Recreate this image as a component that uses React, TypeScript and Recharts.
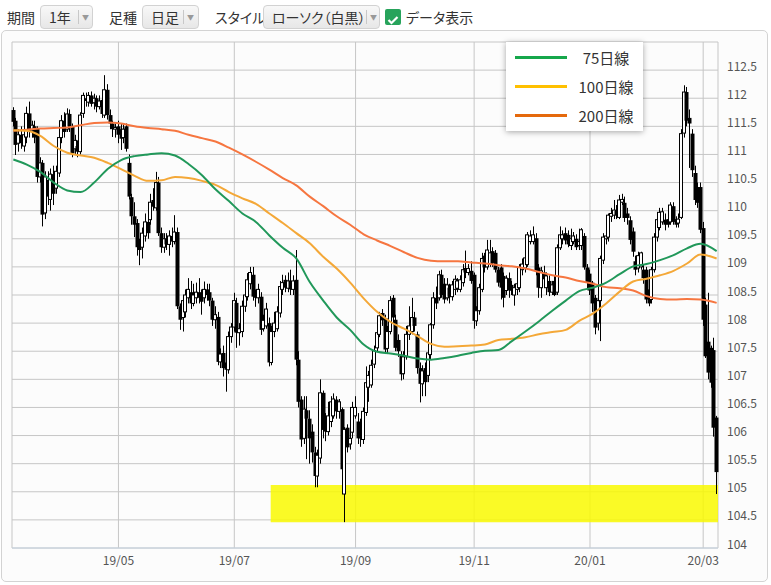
import { Bar, CartesianGrid, ComposedChart, Line, ReferenceArea, XAxis, YAxis } from "recharts";

// daily candles [open, high, low, close], 2019/03 - 2020/03
const ohlc: [number, number, number, number][] = [
  [111.79, 111.84, 111.5, 111.58], [111.6, 111.65, 110.99, 111.17], [111.2, 111.45, 111.05, 111.35], [111.35, 111.5, 111.1, 111.2],
  [111.15, 111.45, 111.05, 111.35], [111.31, 111.85, 111.2, 111.73], [111.73, 111.94, 111.3, 111.4], [111.42, 111.6, 111.3, 111.52],
  [111.5, 111.6, 111.2, 111.3], [111.47, 111.5, 110.5, 110.6], [110.6, 110.95, 110.5, 110.85], [110.85, 110.9, 109.72, 109.93],
  [109.96, 110.7, 109.85, 110.6], [110.55, 110.7, 110.1, 110.25], [110.2, 110.75, 110.0, 110.65], [110.65, 110.8, 110.1, 110.3],
  [110.4, 110.8, 110.3, 110.7], [110.67, 111.4, 110.6, 111.3], [111.3, 111.7, 111.2, 111.6], [111.6, 111.75, 111.3, 111.4],
  [111.45, 111.82, 111.4, 111.72], [111.72, 111.8, 111.4, 111.5], [111.49, 111.55, 110.95, 111.02], [111.1, 111.35, 111.0, 111.25],
  [111.15, 111.25, 110.95, 111.05], [111.05, 111.75, 111.0, 111.7], [111.73, 112.1, 111.65, 112.05], [112.0, 112.1, 111.85, 111.95],
  [111.93, 112.11, 111.85, 112.05], [112.05, 112.12, 111.85, 111.9], [111.92, 112.08, 111.8, 112.0], [112.0, 112.05, 111.75, 111.85],
  [111.85, 112.05, 111.8, 111.95], [111.97, 112.02, 111.65, 111.72], [111.7, 112.41, 111.65, 112.15], [112.15, 112.25, 111.62, 111.7],
  [111.7, 111.8, 111.45, 111.55], [111.55, 111.6, 111.31, 111.45], [111.45, 111.55, 111.3, 111.48], [111.5, 111.6, 111.2, 111.35],
  [111.45, 111.55, 111.08, 111.28], [111.3, 111.55, 111.2, 111.45], [111.5, 111.55, 111.05, 111.1], [110.85, 111.0, 110.2, 110.25],
  [110.24, 110.3, 109.75, 109.9], [109.9, 110.15, 109.53, 109.75], [109.78, 109.85, 109.2, 109.35], [109.4, 109.5, 109.03, 109.3],
  [109.35, 109.7, 109.15, 109.6], [109.55, 109.95, 109.45, 109.8], [109.8, 110.0, 109.5, 109.6], [109.84, 110.3, 109.75, 110.15],
  [110.19, 110.4, 110.0, 110.07], [110.05, 110.69, 110.0, 110.5], [110.5, 110.6, 109.55, 109.6], [109.6, 109.7, 109.25, 109.35],
  [109.35, 109.6, 109.25, 109.5], [109.5, 109.6, 109.3, 109.4], [109.4, 109.65, 109.2, 109.55], [109.55, 109.7, 109.35, 109.45],
  [109.45, 109.92, 109.4, 109.62], [109.62, 109.7, 108.25, 108.3], [108.3, 108.35, 107.88, 108.06], [108.1, 108.5, 107.85, 108.4],
  [108.2, 108.6, 108.1, 108.5], [108.45, 108.8, 108.35, 108.6], [108.55, 108.75, 108.25, 108.35], [108.35, 108.7, 108.3, 108.5],
  [108.45, 108.72, 108.35, 108.55], [108.55, 108.8, 108.35, 108.45], [108.5, 108.6, 108.15, 108.38], [108.45, 108.74, 108.35, 108.6],
  [108.6, 108.7, 108.4, 108.5], [108.55, 108.7, 108.3, 108.4], [108.4, 108.45, 107.95, 108.06], [108.06, 108.3, 107.9, 108.15],
  [108.11, 108.2, 107.25, 107.31], [107.31, 107.55, 107.2, 107.45], [107.47, 107.6, 107.05, 107.2], [107.3, 107.4, 106.78, 107.17],
  [107.17, 107.85, 107.1, 107.76], [107.76, 108.0, 107.65, 107.93], [107.93, 108.54, 107.85, 108.4], [108.36, 108.45, 107.56, 107.83],
  [107.83, 108.0, 107.6, 107.9], [107.85, 108.4, 107.75, 108.3], [108.3, 108.6, 108.2, 108.5], [108.47, 108.89, 108.4, 108.77],
  [108.7, 109.0, 108.6, 108.9], [108.86, 109.0, 108.4, 108.47], [108.55, 108.6, 108.29, 108.45], [108.45, 108.7, 108.35, 108.6],
  [108.47, 108.55, 107.79, 107.88], [107.9, 108.15, 107.85, 108.05], [107.95, 108.36, 107.9, 108.25], [108.0, 108.1, 107.23, 107.3],
  [107.3, 107.95, 107.25, 107.85], [107.85, 108.2, 107.75, 108.0], [107.9, 108.3, 107.85, 108.2], [108.18, 108.75, 108.1, 108.65],
  [108.6, 108.86, 108.5, 108.72], [108.77, 108.85, 108.55, 108.63], [108.62, 108.9, 108.55, 108.75], [108.75, 108.95, 108.5, 108.6],
  [108.6, 108.85, 108.5, 108.75], [108.77, 109.3, 107.25, 107.35], [107.35, 107.5, 106.5, 106.6], [106.64, 106.7, 105.8, 105.93],
  [105.95, 106.7, 105.85, 106.47], [106.45, 106.7, 105.58, 106.3], [106.3, 106.45, 105.5, 105.95], [106.07, 106.2, 105.52, 105.7],
  [105.7, 105.8, 105.08, 105.28], [105.28, 105.75, 105.08, 105.65], [105.6, 107.0, 105.5, 106.76], [106.76, 106.8, 105.95, 106.1],
  [106.3, 106.4, 105.9, 106.07], [106.07, 106.6, 106.0, 106.35], [106.25, 106.7, 106.15, 106.6], [106.35, 106.75, 106.3, 106.65],
  [106.64, 106.7, 106.3, 106.43], [106.43, 106.65, 106.3, 106.6], [106.47, 106.5, 105.35, 105.4], [104.96, 106.15, 104.46, 106.11],
  [106.14, 106.2, 105.7, 105.79], [105.85, 106.3, 105.75, 105.95], [106.06, 106.6, 105.95, 106.5], [106.35, 106.7, 106.3, 106.5],
  [106.25, 106.4, 105.85, 105.95], [106.2, 106.3, 105.8, 105.95], [105.93, 106.5, 105.85, 106.43], [106.41, 107.23, 106.35, 106.94],
  [106.86, 107.15, 106.6, 107.07], [106.9, 107.35, 106.85, 107.25], [107.27, 107.6, 107.2, 107.51], [107.56, 108.0, 107.5, 107.83],
  [107.8, 108.2, 107.75, 108.13], [108.18, 108.25, 107.95, 108.05], [108.09, 108.15, 107.45, 107.53], [107.55, 107.95, 107.45, 107.85],
  [107.85, 108.48, 107.8, 108.4], [108.45, 108.5, 108.0, 108.1], [108.06, 108.15, 107.5, 107.56], [107.7, 107.8, 107.4, 107.5],
  [107.44, 107.5, 106.98, 107.09], [107.1, 107.5, 107.0, 107.4], [107.4, 107.95, 107.35, 107.8], [107.8, 108.3, 107.7, 107.95],
  [107.85, 108.45, 107.8, 108.1], [108.1, 108.2, 107.85, 107.95], [107.8, 107.85, 107.1, 107.2], [107.2, 107.3, 106.59, 106.92],
  [106.92, 107.25, 106.7, 107.15], [107.2, 107.3, 106.7, 106.95], [107.07, 107.55, 106.95, 107.47], [107.44, 108.0, 107.35, 107.97],
  [107.97, 108.55, 107.9, 108.45], [108.45, 108.65, 108.25, 108.35], [108.45, 108.93, 108.4, 108.86], [108.86, 108.95, 108.45, 108.5],
  [108.7, 108.8, 108.35, 108.42], [108.45, 108.8, 108.4, 108.68], [108.63, 108.7, 108.35, 108.47], [108.47, 108.75, 108.4, 108.68],
  [108.6, 108.85, 108.5, 108.78], [108.62, 108.8, 108.55, 108.75], [108.6, 108.85, 108.55, 108.77], [108.72, 109.05, 108.65, 108.95],
  [108.98, 109.29, 108.8, 108.9], [108.9, 109.05, 108.85, 108.97], [108.93, 109.1, 108.7, 108.75], [108.86, 108.9, 107.9, 108.04],
  [108.04, 108.3, 107.95, 108.22], [108.22, 108.7, 108.15, 108.63], [108.6, 109.25, 108.55, 109.15], [109.2, 109.25, 108.9, 108.99],
  [109.0, 109.48, 108.95, 109.3], [109.05, 109.48, 109.0, 109.25], [109.28, 109.35, 109.0, 109.07], [109.25, 109.3, 108.9, 108.95],
  [108.95, 109.0, 108.65, 108.72], [108.99, 109.05, 108.42, 108.63], [108.84, 108.9, 108.28, 108.45], [108.58, 108.85, 108.5, 108.8],
  [108.8, 108.9, 108.45, 108.58], [108.68, 108.75, 108.5, 108.58], [108.5, 108.7, 108.31, 108.63], [108.6, 108.8, 108.5, 108.7],
  [108.63, 109.05, 108.55, 108.99], [108.95, 109.15, 108.85, 109.05], [108.98, 109.25, 108.9, 109.16], [109.04, 109.62, 109.0, 109.57],
  [109.45, 109.65, 109.4, 109.55], [109.45, 109.72, 109.4, 109.57], [109.51, 109.6, 108.85, 108.93], [108.99, 109.05, 108.45, 108.63],
  [108.63, 109.0, 108.45, 108.93], [108.9, 109.02, 108.7, 108.78], [108.63, 108.9, 108.5, 108.84], [108.75, 108.85, 108.48, 108.55],
  [108.55, 108.75, 108.5, 108.68], [108.75, 108.85, 108.48, 108.5], [108.55, 109.4, 108.5, 109.34], [109.34, 109.72, 109.3, 109.57],
  [109.5, 109.65, 109.4, 109.57], [109.6, 109.7, 109.4, 109.47], [109.57, 109.65, 109.35, 109.4], [109.38, 109.68, 109.3, 109.5],
  [109.45, 109.62, 109.4, 109.55], [109.5, 109.58, 109.3, 109.35], [109.38, 109.68, 109.3, 109.45], [109.38, 109.69, 109.3, 109.66],
  [109.55, 109.6, 108.95, 108.99], [108.99, 109.05, 108.6, 108.72], [108.88, 108.95, 108.5, 108.58], [108.72, 108.75, 108.2, 108.35],
  [108.45, 108.5, 107.8, 107.92], [108.0, 108.5, 107.87, 108.4], [108.4, 109.2, 107.68, 109.15], [109.12, 109.6, 109.05, 109.53],
  [109.5, 109.65, 109.4, 109.55], [109.53, 109.95, 109.45, 109.92], [109.9, 110.05, 109.8, 109.95], [109.92, 110.19, 109.85, 110.01],
  [110.0, 110.1, 109.85, 109.92], [109.88, 110.28, 109.85, 110.19], [110.15, 110.3, 110.1, 110.2], [110.14, 110.25, 109.8, 109.87],
  [109.95, 110.05, 109.75, 109.87], [109.83, 109.9, 109.4, 109.48], [109.63, 109.7, 109.18, 109.27], [109.1, 109.2, 108.85, 108.95],
  [108.98, 109.27, 108.9, 109.2], [109.0, 109.27, 108.95, 109.25], [108.95, 109.05, 108.7, 108.8], [108.95, 109.0, 108.35, 108.42],
  [108.6, 108.7, 108.3, 108.35], [108.42, 109.0, 108.35, 108.95], [108.95, 109.6, 108.9, 109.53], [109.53, 109.9, 109.45, 109.84],
  [109.7, 110.05, 109.65, 109.97], [109.8, 110.05, 109.75, 109.98], [109.84, 109.95, 109.65, 109.75], [109.85, 109.95, 109.7, 109.75],
  [109.8, 110.15, 109.75, 110.1], [110.08, 110.15, 109.75, 109.8], [109.85, 109.9, 109.7, 109.75], [109.78, 109.95, 109.7, 109.85],
  [109.88, 111.45, 109.85, 111.37], [111.38, 112.23, 111.3, 112.11], [112.11, 112.2, 111.5, 111.6], [111.65, 111.8, 110.76, 111.55],
  [111.37, 111.45, 110.6, 110.72], [110.67, 110.8, 110.1, 110.19], [110.42, 110.5, 110.05, 110.14], [110.42, 110.5, 109.6, 109.66],
  [109.69, 109.8, 107.95, 108.06], [108.33, 108.45, 107.38, 107.41], [107.67, 108.54, 107.0, 107.12], [107.56, 107.6, 106.85, 106.94],
  [107.52, 107.74, 105.98, 106.14], [106.32, 106.35, 104.96, 105.35],
];

// moving averages, read at these candle positions
const maIndex = [
  0, 5, 10, 15, 20, 25, 30, 35, 40, 45, 50, 55, 60, 65, 70, 75, 80, 85, 90, 95, 100, 105, 110, 115, 120, 125,
  130, 135, 140, 145, 150, 155, 160, 165, 170, 175, 180, 185, 190, 195, 200, 205, 210, 215, 220, 225, 230, 235,
  240, 245, 250, 255, 261,
];
const ma75 = [
  110.91, 110.82, 110.69, 110.5, 110.36, 110.33, 110.5, 110.74, 110.9, 110.97, 111.0, 111.02, 110.98, 110.83,
  110.63, 110.38, 110.17, 109.95, 109.8, 109.56, 109.34, 109.15, 108.73, 108.4, 108.1, 107.88, 107.62, 107.49,
  107.46, 107.42, 107.37, 107.35, 107.38, 107.42, 107.47, 107.51, 107.52, 107.68, 107.85, 108.03, 108.22, 108.4,
  108.57, 108.63, 108.72, 108.87, 109.01, 109.05, 109.12, 109.21, 109.33, 109.41, 109.28,
];
const ma100 = [
  111.43, 111.42, 111.33, 111.15, 111.03, 110.98, 110.94, 110.85, 110.74, 110.62, 110.53, 110.54, 110.6, 110.58,
  110.53, 110.46, 110.33, 110.22, 110.12, 109.95, 109.78, 109.6, 109.42, 109.18, 108.97, 108.72, 108.44, 108.2,
  108.02, 107.9, 107.77, 107.63, 107.58, 107.59, 107.6, 107.62, 107.7, 107.72, 107.75, 107.8, 107.84, 107.88,
  108.04, 108.17, 108.35, 108.56, 108.74, 108.79, 108.85, 108.93, 109.06, 109.22, 109.15,
];
const ma200 = [
  111.42, 111.44, 111.46, 111.47, 111.48, 111.52, 111.56, 111.57, 111.55, 111.5, 111.47, 111.45, 111.42, 111.35,
  111.29, 111.23, 111.12, 111.0, 110.87, 110.73, 110.58, 110.45, 110.25, 110.08, 109.9, 109.75, 109.58, 109.47,
  109.37, 109.26, 109.16, 109.11, 109.1, 109.1, 109.08, 109.06, 109.03, 109.01, 108.97, 108.91, 108.85, 108.81,
  108.75, 108.7, 108.64, 108.62, 108.58, 108.48, 108.43, 108.42, 108.43, 108.42, 108.36,
];

const tickIdx = [39, 82, 127, 171, 214, 256];
const tickLabels = ["19/05", "19/07", "19/09", "19/11", "20/01", "20/03"];
const yTicks = [104, 104.5, 105, 105.5, 106, 106.5, 107, 107.5, 108, 108.5, 109, 109.5, 110, 110.5, 111, 111.5, 112, 112.5, 113];

// highlighted band (Aug-2019 lows)
const bandStart = 96;
const bandEnd = 261;
const bandLow = 104.46;
const bandHigh = 105.12;

const legendItems = [
  { label: "75日線", color: "#16a74b" },
  { label: "100日線", color: "#ffc000" },
  { label: "200日線", color: "#e5690c" },
];

type Row = {
  i: number; o: number; h: number; l: number; c: number;
  range: [number, number];
  ma75?: number; ma100?: number; ma200?: number;
};

const rows: Row[] = ohlc.map(([o, h, l, c], i) => ({ i, o, h, l, c, range: [l, h] }));
maIndex.forEach((idx, k) => {
  rows[idx].ma75 = ma75[k];
  rows[idx].ma100 = ma100[k];
  rows[idx].ma200 = ma200[k];
});

const FONT = '"Noto Sans CJK JP", "Noto Sans", sans-serif';

// white/black candle drawn inside the bar's [low, high] box
function Candle(props: any) {
  const { x, y, width, height, payload } = props;
  if (!payload) return null;
  const { o, h, l, c } = payload as Row;
  const span = h - l || 1;
  const toY = (v: number) => y + ((h - v) / span) * height;
  const cx = Math.floor(x + width / 2);
  const top = toY(Math.max(o, c));
  const bh = Math.max(toY(Math.min(o, c)) - top, 1);
  return (
    <g>
      <line x1={cx + 0.5} x2={cx + 0.5} y1={y} y2={y + height} stroke="#000" strokeWidth={1} />
      {c >= o ? (
        <rect x={cx - 1.5} y={top} width={3} height={bh} fill="#fff" stroke="#000" strokeWidth={1} />
      ) : (
        <rect x={cx - 1.5} y={top} width={4} height={bh} fill="#000" />
      )}
    </g>
  );
}

function XTick(props: any) {
  const { x, y, payload } = props;
  const k = tickIdx.indexOf(payload.value);
  return (
    <text x={x} y={y} textAnchor="middle" dominantBaseline="central" fontSize={12} fill="#555" fontFamily={FONT}>
      {tickLabels[k]}
    </text>
  );
}

function YTick(props: any) {
  const { x, y, payload } = props;
  if (payload.value === 113) return null;
  return (
    <text x={x} y={y - 5} textAnchor="start" dominantBaseline="central" fontSize={12} fill="#555" fontFamily={FONT}>
      {String(payload.value)}
    </text>
  );
}

const palt = { fontFeatureSettings: '"palt"' };

function Dropdown({ left, width, label, sep }: { left: number; width: number; label: string; sep: number }) {
  return (
    <div
      style={{
        position: "absolute", left, top: 5, width, height: 24, boxSizing: "border-box",
        border: "1px solid #d2d2d2", borderRadius: 4, background: "linear-gradient(#f8f8f8, #e7e7e7)",
        fontSize: 14, lineHeight: "22px", color: "#333", ...palt,
      }}
    >
      <span style={{ position: "absolute", left: 8, top: 0, whiteSpace: "nowrap" }}>{label}</span>
      <span style={{ position: "absolute", left: sep, top: 4, width: 1, height: 14, background: "#c8c8c8" }} />
      <span style={{ position: "absolute", left: sep + 4, top: 0, fontSize: 7, color: "#999" }}>▼</span>
    </div>
  );
}

function Label({ left, text }: { left: number; text: string }) {
  return (
    <div
      style={{
        position: "absolute", left, top: 0, height: 34, lineHeight: "34px", fontSize: 14, color: "#333",
        whiteSpace: "nowrap", ...palt,
      }}
    >
      {text}
    </div>
  );
}

export default function App() {
  return (
    <div style={{ position: "relative", width: 771, height: 585, fontFamily: FONT, background: "#fff" }}>
      <style>{"body{margin:0}"}</style>
      <Label left={7} text="期間" />
      <Dropdown left={40} width={53} label="1年" sep={37} />
      <Label left={109} text="足種" />
      <Dropdown left={142} width={57} label="日足" sep={40} />
      <Label left={215} text="スタイル" />
      <Dropdown left={263} width={117} label="ローソク（白黒）" sep={102} />
      <div style={{ position: "absolute", left: 385, top: 9, width: 16, height: 16, borderRadius: 2, background: "#27a35b" }}>
        <svg width={16} height={16}>
          <polyline points="3.5,8 6.5,11 12.5,5" fill="none" stroke="#fff" strokeWidth={2.2} />
        </svg>
      </div>
      <Label left={406} text="データ表示" />

      <div
        style={{
          position: "absolute", left: 1, top: 30, width: 767, height: 552, boxSizing: "border-box",
          border: "1px solid #d3d3d3", borderRadius: 5, background: "#fcfcfc",
        }}
      />

      <div style={{ position: "absolute", left: 0, top: 0 }}>
        <ComposedChart width={771} height={585} data={rows} margin={{ top: 42, right: 13, bottom: 12, left: 12 }}>
          <CartesianGrid stroke="#c6c6c6" strokeWidth={1} />
          <XAxis
            dataKey="i"
            type="category"
            ticks={tickIdx}
            interval={0}
            height={25}
            tickSize={0}
            tickMargin={11}
            tickLine={false}
            axisLine={{ stroke: "#c4d2e0" }}
            tick={<XTick />}
          />
          <YAxis
            orientation="right"
            domain={[104, 113]}
            ticks={yTicks}
            interval={0}
            width={40}
            tickSize={0}
            tickMargin={9}
            tickLine={false}
            axisLine={false}
            tick={<YTick />}
          />
          <ReferenceArea
            x1={bandStart}
            x2={bandEnd}
            y1={bandLow}
            y2={bandHigh}
            fill="#f9f900"
            fillOpacity={0.85}
            stroke="none"
          />
          <Bar dataKey="range" shape={<Candle />} isAnimationActive={false} />
          <Line dataKey="ma200" type="monotone" stroke="#f67640" strokeWidth={2} dot={false} connectNulls isAnimationActive={false} />
          <Line dataKey="ma100" type="monotone" stroke="#f4a838" strokeWidth={2} dot={false} connectNulls isAnimationActive={false} />
          <Line dataKey="ma75" type="monotone" stroke="#21985a" strokeWidth={2} dot={false} connectNulls isAnimationActive={false} />
        </ComposedChart>
      </div>

      <div
        style={{
          position: "absolute", left: 506, top: 42, width: 137, height: 89, background: "#fff",
          boxShadow: "0 1px 6px rgba(0,0,0,0.35)",
        }}
      >
        {legendItems.map((it, k) => (
          <div key={it.label} style={{ position: "absolute", left: 0, top: 1 + k * 29, width: 137, height: 29 }}>
            <div style={{ position: "absolute", left: 9, top: 13, width: 52, height: 3, background: it.color }} />
            <div
              style={{
                position: "absolute", left: 70, width: 60, top: 0, lineHeight: "29px", textAlign: "center",
                fontSize: 15, color: "#333",
              }}
            >
              {it.label}
            </div>
          </div>
        ))}
      </div>
    </div>
  );
}
